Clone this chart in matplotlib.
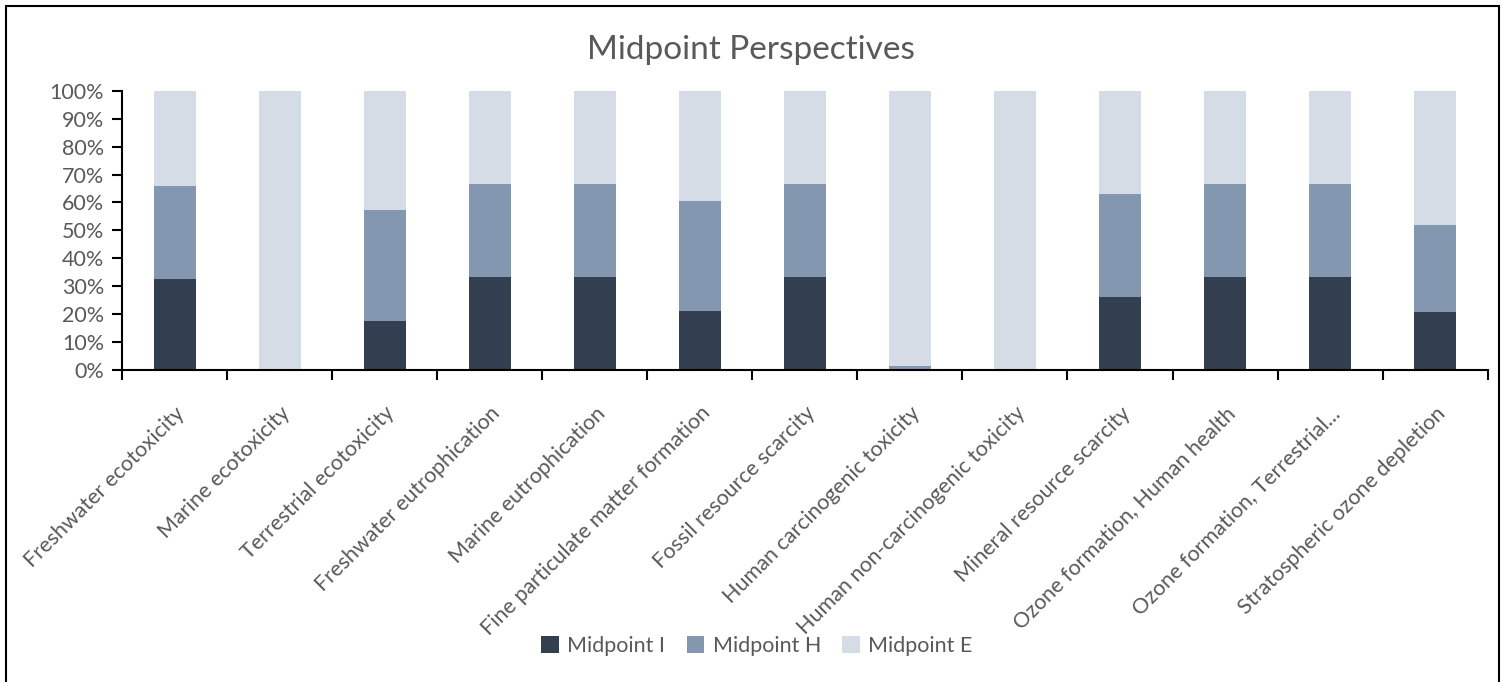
import matplotlib.pyplot as plt
import numpy as np
from matplotlib.patches import Rectangle

categories = [
    "Freshwater ecotoxicity", "Marine ecotoxicity", "Terrestrial ecotoxicity",
    "Freshwater eutrophication", "Marine eutrophication",
    "Fine particulate matter formation", "Fossil resource scarcity",
    "Human carcinogenic toxicity", "Human non-carcinogenic toxicity",
    "Mineral resource scarcity", "Ozone formation, Human health",
    "Ozone formation, Terrestrial...", "Stratospheric ozone depletion",
]
# shares in percent, each category sums to 100
midpoint_i = [32.4, 0.0, 17.6, 33.3, 33.3, 21.2, 33.3, 0.0, 0.0, 26.2, 33.3, 33.3, 20.8]
midpoint_h = [33.5, 0.0, 39.6, 33.3, 33.3, 39.4, 33.3, 1.4, 0.0, 36.8, 33.3, 33.3, 31.2]
midpoint_e = [100 - a - b for a, b in zip(midpoint_i, midpoint_h)]

series = ["Midpoint I", "Midpoint H", "Midpoint E"]
colors = ["#333F50", "#8497B0", "#D6DCE5"]
text_color = "#595959"

plt.rcParams["font.family"] = ["Lato", "DejaVu Sans"]

fig = plt.figure(figsize=(15.01, 6.82), dpi=100)
ax = fig.add_axes([122 / 1501, 1 - 369.7 / 682, (1487.7 - 122) / 1501, (369.7 - 91) / 682])

x = np.arange(len(categories))
bottom = np.zeros(len(categories))
for name, vals, c in zip(series, [midpoint_i, midpoint_h, midpoint_e], colors):
    vals = np.array(vals) / 100
    ax.bar(x, vals, width=0.4, bottom=bottom, color=c, label=name, zorder=2)
    bottom += vals

ax.set_xlim(-0.5, len(categories) - 0.5)
ax.set_ylim(0, 1)
ax.set_yticks(np.arange(0, 1.01, 0.1))
ax.set_yticklabels([f"{int(round(v * 100))}%" for v in np.arange(0, 1.01, 0.1)])
ax.tick_params(axis="y", length=7, width=1.5, colors="black", labelcolor=text_color,
               labelsize=15.5, pad=6)

ax.set_xticks(x)
ax.set_xticklabels(categories, rotation=45, ha="right", rotation_mode="anchor",
                   color=text_color, fontsize=15.5)
ax.tick_params(axis="x", which="major", length=0, pad=24)
ax.set_xticks(np.arange(-0.5, len(categories), 1), minor=True)
ax.tick_params(axis="x", which="minor", length=7, width=1.5, colors="black")

for side in ["top", "right"]:
    ax.spines[side].set_visible(False)
for side in ["left", "bottom"]:
    ax.spines[side].set_linewidth(1.5)

fig.text(0.5, 1 - 50 / 682, "Midpoint Perspectives", ha="center", va="center",
         fontsize=24, color=text_color)

fig.legend(loc="center", bbox_to_anchor=(757 / 1501, 1 - 646 / 682), ncol=3, frameon=False,
           fontsize=15.5, labelcolor=text_color, handlelength=0.8, handleheight=0.8,
           handletextpad=0.4, columnspacing=1.0)

fig.patches.append(Rectangle((6 / 1501, -0.01), 1493 / 1501, 1 - 6 / 682 + 0.01,
                             transform=fig.transFigure, fill=False,
                             edgecolor="black", linewidth=1.5))

fig.savefig("out.png", dpi=100)
